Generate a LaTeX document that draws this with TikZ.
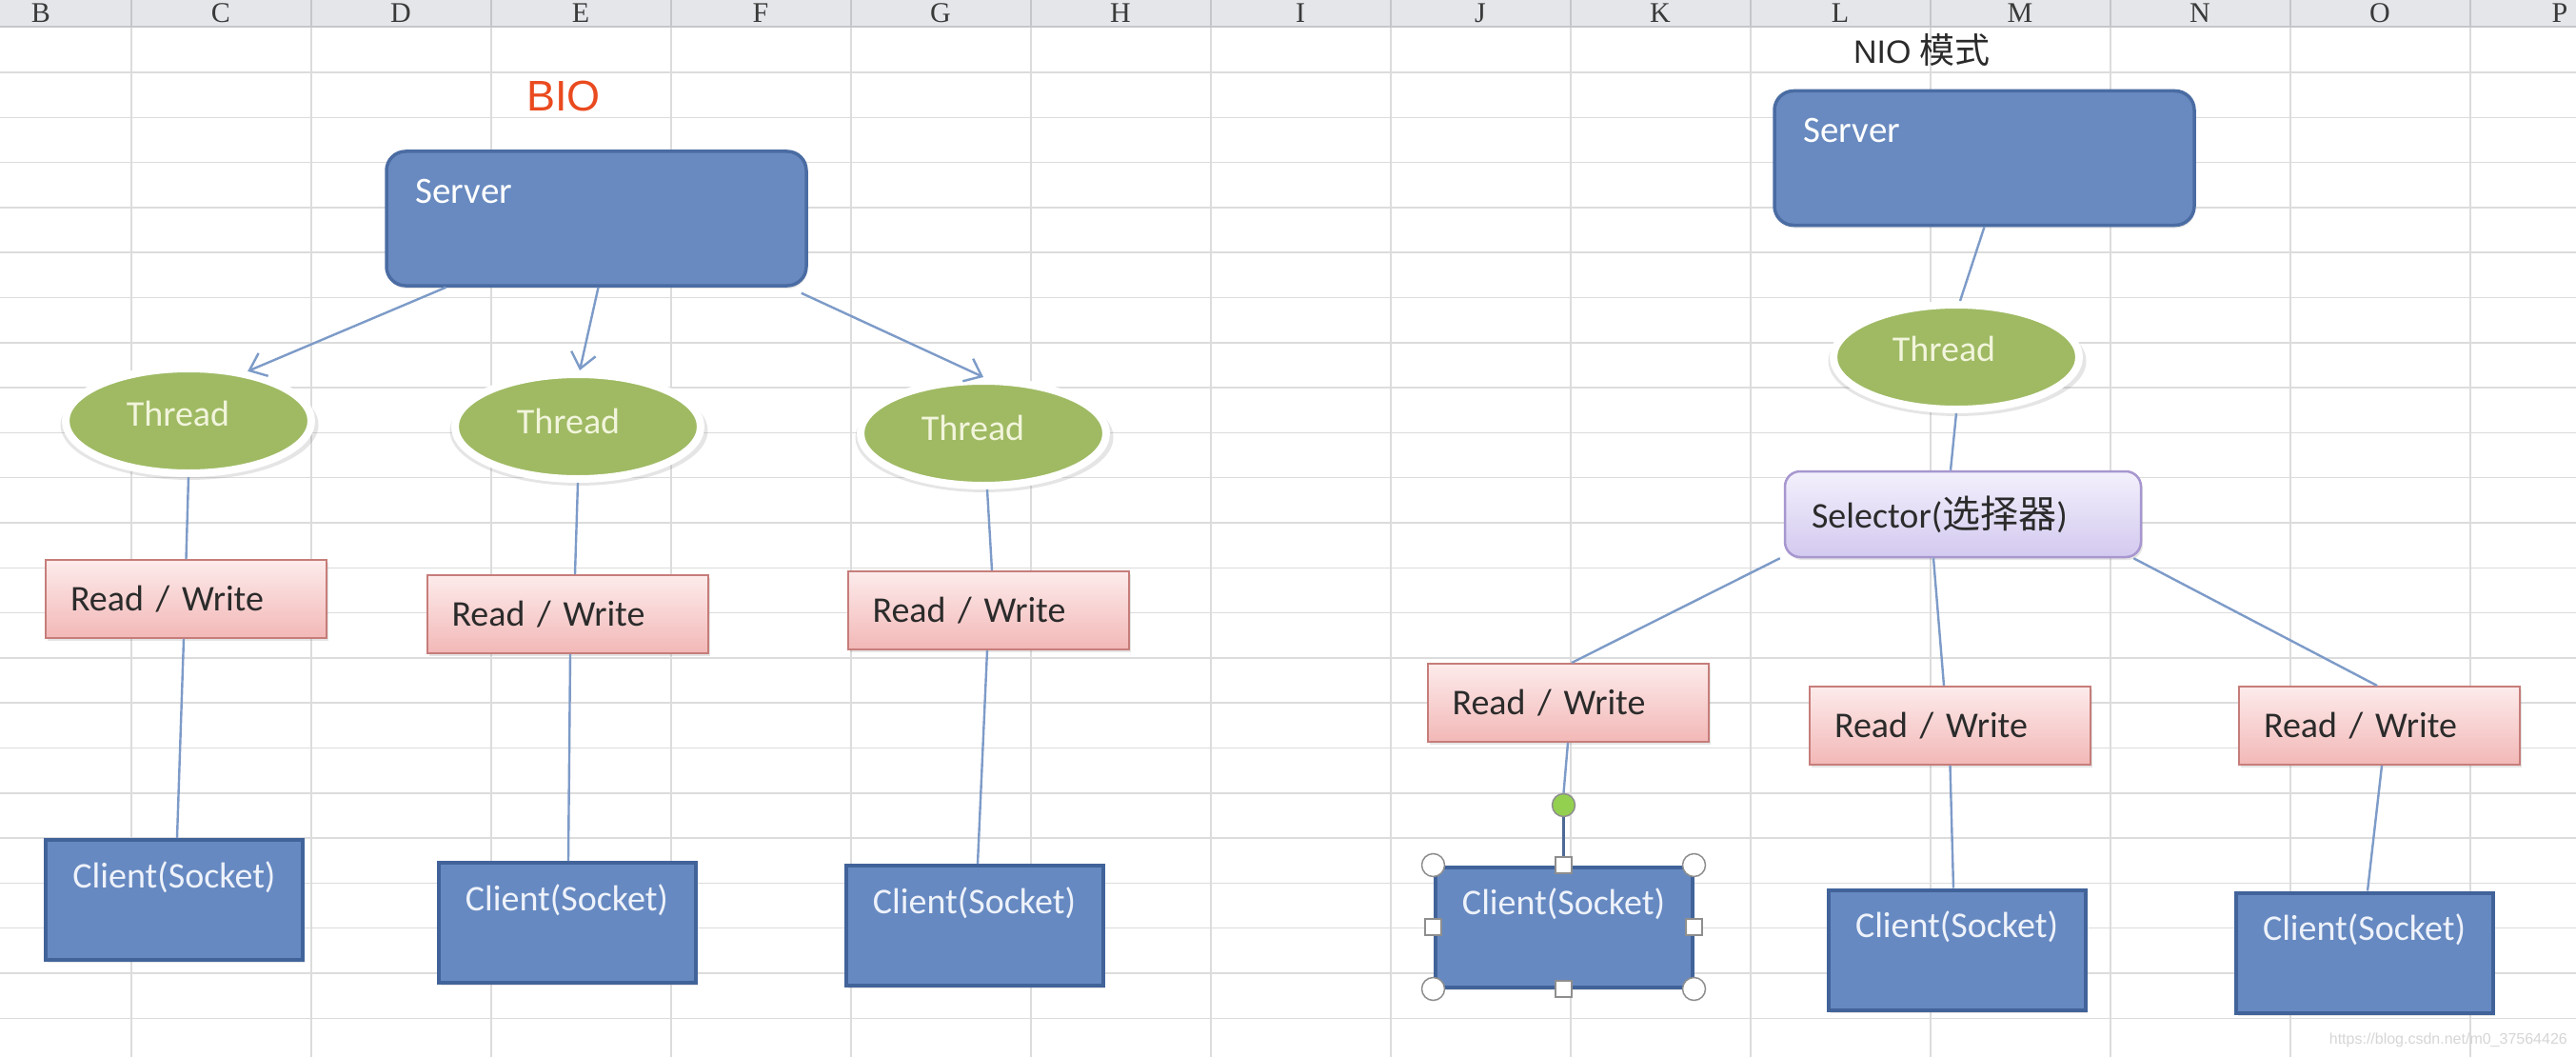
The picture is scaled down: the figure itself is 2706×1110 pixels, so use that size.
\documentclass[tikz,border=0pt]{standalone}
\usepackage{fontspec}
\setmainfont{Carlito}
\newfontfamily\cjkf{Noto Sans CJK SC}
\newfontfamily\arialf{Liberation Sans}
\newfontfamily\hdrf{Liberation Serif}
\usetikzlibrary{shapes.geometric,arrows.meta,shadows,calc}
\definecolor{gridc}{HTML}{DCDCDC}
\definecolor{hdrfill}{HTML}{E4E6EA}
\definecolor{hdrline}{HTML}{C4C6CA}
\definecolor{hdrtext}{HTML}{3A3A3A}
\definecolor{srvfill}{HTML}{688AC0}
\definecolor{srvdraw}{HTML}{4A6CA3}
\definecolor{clifill}{HTML}{6689C1}
\definecolor{clidraw}{HTML}{41639A}
\definecolor{clitext}{HTML}{EEF2FA}
\definecolor{thrfill}{HTML}{9FBA63}
\definecolor{thrtext}{HTML}{F2F5DC}
\definecolor{conncol}{HTML}{7D9BC8}
\definecolor{rwtop}{HTML}{FDEBEB}
\definecolor{rwbot}{HTML}{F2B8B7}
\definecolor{rwdraw}{HTML}{C67D7A}
\definecolor{seltop}{HTML}{F3F0FC}
\definecolor{selbot}{HTML}{D3C9EF}
\definecolor{seldraw}{HTML}{A797CF}
\definecolor{biored}{HTML}{EA4A1F}
\definecolor{dark}{HTML}{2B2B2B}
\definecolor{wmc}{HTML}{D6D6D6}
\definecolor{handledraw}{HTML}{8E8E8E}
\definecolor{rotgreen}{HTML}{93D04F}
\definecolor{stemc}{HTML}{4E6A95}
\newcommand\lblfont{\fontsize{38}{40}\selectfont}
\begin{document}
\begin{tikzpicture}[x=1pt,y=-1pt,
  gridline/.style={draw=gridc, line width=1.5pt},
  link/.style={draw=conncol, line width=2.4pt},
  arr/.style={link, -{Straight Barb[length=16pt,width=26pt]}},
  stem/.style={draw=stemc, line width=3.5pt},
  srv/.style={rectangle, rounded corners=20pt, fill=srvfill, draw=srvdraw, line width=3.5pt,
    minimum width=441pt, minimum height=141pt, inner sep=0pt,
    drop shadow={shadow xshift=1pt, shadow yshift=-3pt, opacity=.2}},
  srvtxt/.style={text=white, font=\fontsize{39}{40}\selectfont, inner sep=0pt, anchor=base west},
  thr/.style={ellipse, fill=thrfill, draw=white, line width=8pt, minimum width=258pt,
    minimum height=110pt, inner sep=0pt,
    drop shadow={shadow scale=1.05, shadow xshift=1pt, shadow yshift=-4pt, opacity=.2}},
  thrtxt/.style={text=thrtext, font=\lblfont, inner sep=0pt},
  rwbox/.style={rectangle, top color=rwtop, bottom color=rwbot, draw=rwdraw, line width=2pt,
    minimum width=295pt, minimum height=82pt, text width=243pt, inner xsep=26pt, inner ysep=0pt,
    align=left, font=\lblfont, text=dark,
    drop shadow={shadow xshift=2pt, shadow yshift=-3pt, opacity=.2}},
  cli/.style={rectangle, fill=clifill, draw=clidraw, line width=4pt, minimum width=270pt,
    minimum height=126pt, inner sep=0pt,
    drop shadow={shadow xshift=2pt, shadow yshift=-3pt, opacity=.2}},
  clitxt/.style={text=clitext, font=\lblfont, inner sep=0pt, anchor=base},
  selbox/.style={rectangle, rounded corners=16pt, top color=seltop, bottom color=selbot,
    draw=seldraw, line width=2.5pt, minimum width=374pt, minimum height=90pt, text width=318pt,
    inner xsep=28pt, inner ysep=0pt, align=left, font=\lblfont, text=dark,
    drop shadow={shadow xshift=2pt, shadow yshift=-3pt, opacity=.2}},
  hcirc/.style={circle, fill=white, draw=handledraw, line width=1.5pt, minimum size=24pt, inner sep=0pt},
  hsq/.style={rectangle, fill=white, draw=handledraw, line width=1.5pt, minimum size=17pt, inner sep=0pt},
  rothandle/.style={circle, fill=rotgreen, draw=handledraw, line width=1.5pt, minimum size=24pt, inner sep=0pt},
  hdr/.style={font=\hdrf\fontsize{30}{30}\selectfont, text=hdrtext, inner sep=0pt, anchor=base},
  wm/.style={font=\arialf\fontsize{16}{16}\selectfont, text=wmc, inner sep=0pt, anchor=east}
]
\useasboundingbox (0,0) rectangle (2706,1110);
\fill[white] (0,0) rectangle (2706,1110);
% spreadsheet grid
\foreach \k in {0,...,13} \draw[gridline] (138+189*\k,28) -- (138+189*\k,1110);
\foreach \k in {0,...,21} \draw[gridline] (0,76+47.3*\k) -- (2706,76+47.3*\k);
% column header
\fill[hdrfill] (0,0) rectangle (2706,28);
\draw[hdrline, line width=1.5pt] (0,28) -- (2706,28);
\foreach \k in {0,...,13} \draw[hdrline, line width=1.5pt] (138+189*\k,0) -- (138+189*\k,28);
\foreach \l [count=\i from 0] in {B,C,D,E,F,G,H,I,J,K,L,M,N,O,P}
  \node[hdr] (h\l) at (43+189*\i,24) {\l};

% titles
\node[font=\arialf\fontsize{45}{45}\selectfont, text=biored, inner sep=0pt] (bio) at (592,101) {BIO};
\node[font=\arialf\fontsize{34}{34}\selectfont, text=dark, inner sep=0pt, anchor=base] (nio) at (2019,67)
  {NIO {\cjkf\fontsize{37}{37}\selectfont 模式}};

% ---------- BIO ----------
\node[srv] (s1) at (626.5,229.5) {};
\node[srvtxt] (s1l) at ($(s1.north west)+(32,56)$) {Server};
\node[thr] (t1) at (198,442) {};
\node[thr] (t2) at (607,448) {};
\node[thr] (t3) at (1033,455) {};
\node[thrtxt] (t1l) at ($(t1.center)+(-11,-8)$) {Thread};
\node[thrtxt] (t2l) at ($(t2.center)+(-10,-6)$) {Thread};
\node[thrtxt] (t3l) at ($(t3.center)+(-11,-6)$) {Thread};
\node[rwbox] (rw1) at (195.5,629) {Read / Write};
\node[rwbox] (rw2) at (596,645) {Read / Write};
\node[rwbox] (rw3) at (1038,641) {Read / Write};
\node[cli] (c1) at (183,945) {};
\node[cli] (c2) at (595.5,969) {};
\node[cli] (c3) at (1023.5,972) {};
\node[clitxt] (c1l) at ($(c1.north)+(0,52)$) {Client(Socket)};
\node[clitxt] (c2l) at ($(c2.north)+(0,52)$) {Client(Socket)};
\node[clitxt] (c3l) at ($(c3.north)+(0,52)$) {Client(Socket)};

\draw[arr] ([xshift=-158pt]s1.south) -- (t1.40);
\draw[arr] ([xshift=2pt]s1.south) -- ([xshift=2pt]t2.north);
\draw[arr] ([xshift=-7pt,yshift=-6pt]s1.south east) -- (t3.north);
\draw[link] (t1.south) -- (rw1.north);
\draw[link] ([xshift=-2.5pt]rw1.south) -- ([xshift=3pt]c1.north);
\draw[link] (t2.south) -- ([xshift=8pt]rw2.north);
\draw[link] ([xshift=3pt]rw2.south) -- ([xshift=1.5pt]c2.north);
\draw[link] ([xshift=4pt]t3.south) -- ([xshift=4pt]rw3.north);
\draw[link] ([xshift=-1pt]rw3.south) -- ([xshift=3.5pt]c3.north);

% ---------- NIO ----------
\node[srv] (s2) at (2084.5,166) {};
\node[srvtxt] (s2l) at ($(s2.north west)+(32,56)$) {Server};
\node[thr] (t4) at (2055,375) {};
\node[thrtxt] (t4l) at ($(t4.center)+(-13,-9)$) {Thread};
\node[selbox] (sel) at (2062,540) {Selector({\cjkf\fontsize{40}{40}\selectfont 选择器})};
\node[rwbox] (rw4) at (1647,738) {Read / Write};
\node[rwbox] (rw5) at (2048.5,762) {Read / Write};
\node[rwbox] (rw6) at (2499.5,762) {Read / Write};
\node[cli] (c4) at (1642.5,973.5) {};
\node[cli] (c5) at (2055.5,997.5) {};
\node[cli] (c6) at (2483.5,1000.5) {};
\node[clitxt] (c4l) at ($(c4.north)+(0,52)$) {Client(Socket)};
\node[clitxt] (c5l) at ($(c5.north)+(0,52)$) {Client(Socket)};
\node[clitxt] (c6l) at ($(c6.north)+(0,52)$) {Client(Socket)};
\node[rothandle] (rot) at ($(c4.north)+(0,-63)$) {};

\draw[link] (s2.south) -- ([xshift=4pt]t4.north);
\draw[link] (t4.south) -- ([xshift=-13pt]sel.north);
\draw[link] ([xshift=-4pt]sel.south west) -- ([xshift=4pt]rw4.north);
\draw[link] ([xshift=-31pt]sel.south) -- ([xshift=-6.5pt]rw5.north);
\draw[link] ([xshift=-9pt]sel.south east) -- ([xshift=-2.5pt]rw6.north);
\draw[link] (rw4.south) -- (rot.north);
\draw[stem] (rot.south) -- (c4.north);
\draw[link] (rw5.south) -- ([xshift=-3.5pt]c5.north);
\draw[link] ([xshift=2.5pt]rw6.south) -- ([xshift=3.5pt]c6.north);

% selection handles on the selected client box
\node[hcirc] (hnw) at (c4.north west) {};
\node[hcirc] (hne) at (c4.north east) {};
\node[hcirc] (hsw) at (c4.south west) {};
\node[hcirc] (hse) at (c4.south east) {};
\node[hsq] (hn) at (c4.north) {};
\node[hsq] (hs) at (c4.south) {};
\node[hsq] (hw) at (c4.west) {};
\node[hsq] (he) at (c4.east) {};

% watermark
\node[wm] (wmark) at (2697,1092) {https://blog.csdn.net/m0\_37564426};
\end{tikzpicture}
\end{document}
